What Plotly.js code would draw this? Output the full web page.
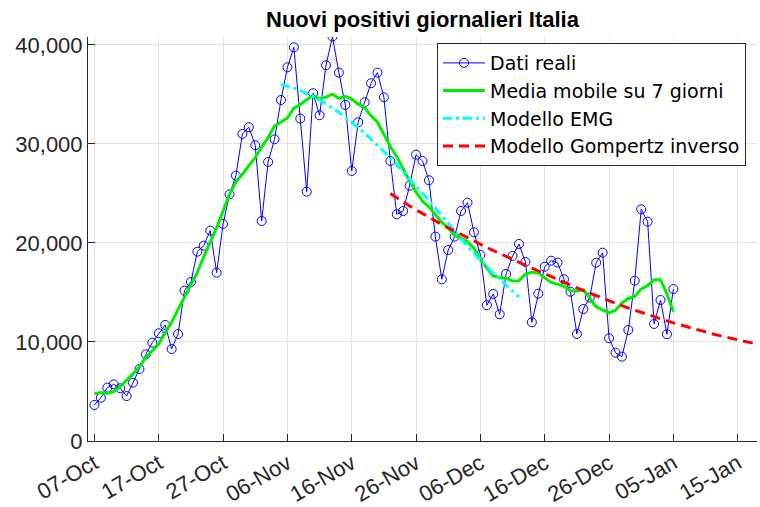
<!DOCTYPE html>
<html>
<head>
<meta charset="utf-8">
<script src="https://cdn.plot.ly/plotly-3.0.1.min.js"></script>
<style>html,body{margin:0;padding:0;background:#fff;}#chart{width:760px;height:507px;}</style>
</head>
<body>
<div id="chart"></div>
<script>
// ---- data ----
var startDate = '2020-10-07';   // first observed day
var datiReali = [3640,4370,5390,5720,5320,4540,5890,7270,8750,9930,
  10880,11720,9290,10800,15180,16060,19120,19730,21250,17000,
  21920,24920,26800,31010,31690,29870,22220,28180,30470,34440,
  37740,39760,32560,25180,35120,32900,37950,40840,37200,33940,
  27270,32190,34210,36130,37200,34710,28280,22900,23230,25790,
  28920,28280,26330,20640,16330,19290,20640,23230,24070,21080,
  18790,13710,14850,12800,16870,18690,19900,18080,11990,14880,
  17600,18210,18010,16330,15080,10810,13330,14480,18010,19020,
  10370,8920,8520,11210,16190,23400,22150,11820,14240,10780,15350];
var mediaMobile = [4780,4888,4830,4981,5500,6126,6774,7511,8426,9104,
  9806,10936,11980,13293,14557,15919,17020,18609,20000,21534,
  23233,24941,26173,26919,27813,28606,29697,30659,31811,32196,
  32619,33610,33957,34459,34901,34536,34733,35031,34613,34800,
  34540,34020,33664,32856,32231,30951,29749,28719,27444,26247,
  25156,24217,23654,22919,22106,21504,20754,20490,20116,19481,
  18361,17453,16684,16516,16414,16169,16173,16859,17050,16953,
  16443,16014,15846,15624,15179,15150,15294,14443,13563,13236,
  12933,13177,13947,14394,14601,15361,15684,16276,16290,14868,13048];
var emgStart = 29;   // day offset from startDate (05-Nov)
var modelloEMG = [36000,35850,35650,35400,35100,34800,34450,34050,33650,33200,
  32700,32200,31650,31100,30500,29900,29250,28600,27900,27200,
  26500,25800,25050,24300,23550,22750,21950,21150,20400,19650,
  18950,18250,17600,16950,16350,15750,15150,14550];
var gompStart = 46;  // day offset from startDate (22-Nov)
var modelloGompertz = [25000,24560,24140,23730,23340,22960,22590,22230,21880,21530,
  21190,20850,20520,20190,19870,19550,19240,18930,18630,18330,
  18040,17750,17460,17180,16880,16585,16295,16010,15730,15455,
  15185,14920,14660,14405,14155,13910,13670,13435,13205,12980,
  12760,12545,12335,12130,11930,11735,11545,11360,11180,11005,
  10835,10670,10510,10355,10205,10060,9920,9785];
var xTickDates = ['2020-10-07','2020-10-17','2020-10-27','2020-11-06','2020-11-16',
  '2020-11-26','2020-12-06','2020-12-16','2020-12-26','2021-01-05','2021-01-15'];
var yTickVals = [0,10000,20000,30000,40000];
var seriesNames = ['Dati reali','Media mobile su 7 giorni','Modello EMG','Modello Gompertz inverso'];

// ---- helpers ----
function dayStr(offset){
  var p = startDate.split('-');
  var d = new Date(Date.UTC(+p[0], +p[1]-1, +p[2] + offset));
  return d.toISOString().slice(0,10);
}
function datesFor(first, n){ var a=[]; for(var i=0;i<n;i++) a.push(dayStr(first+i)); return a; }

var FONT = '"Liberation Sans", Arial, Helvetica, sans-serif';
var traces = [
  {x: datesFor(0, datiReali.length), y: datiReali, name: seriesNames[0], type:'scatter', mode:'lines+markers',
   line:{color:'#0000ff', width:1}, marker:{symbol:'circle-open', size:9, color:'#0000ff', line:{width:1, color:'#0000ff'}}},
  {x: datesFor(0, mediaMobile.length), y: mediaMobile, name: seriesNames[1], type:'scatter', mode:'lines',
   line:{color:'#00ee00', width:3}},
  {x: datesFor(emgStart, modelloEMG.length), y: modelloEMG, name: seriesNames[2], type:'scatter', mode:'lines',
   line:{color:'#00ffff', width:3, dash:'9px,4px,3px,4px'}},
  {x: datesFor(gompStart, modelloGompertz.length), y: modelloGompertz, name: seriesNames[3], type:'scatter', mode:'lines',
   line:{color:'#ff0000', width:3, dash:'10px,6px'}}
];

var layout = {
  width:760, height:507,
  margin:{l:88, r:3, t:37, b:66, pad:0},
  paper_bgcolor:'#fff', plot_bgcolor:'#fff',
  font:{family:FONT, size:22, color:'#262626'},
  title:{text:'<b>Nuovi positivi giornalieri Italia</b>', font:{family:FONT, size:22, color:'#000'},
         x:0.5, xanchor:'center', xref:'paper', y:0.962, yanchor:'middle', yref:'container'},
  xaxis:{type:'date', range:['2020-10-06','2021-01-18'], tickvals:xTickDates, tickformat:'%d-%b',
         tickangle:-30, ticks:'inside', ticklen:7, tickcolor:'#262626', showline:true, linecolor:'#262626',
         linewidth:1, showgrid:true, gridcolor:'#e3e3e3', zeroline:false, tickfont:{size:22}},
  yaxis:{range:[0,40800], tickvals:yTickVals, tickformat:',', ticks:'inside', ticklen:7, tickcolor:'#262626',
         showline:true, linecolor:'#262626', linewidth:1, showgrid:true, gridcolor:'#e3e3e3', zeroline:false,
         tickfont:{size:22}},
  showlegend:true,
  legend:{x:0.5217, y:0.985, xanchor:'left', yanchor:'top', bgcolor:'#fff', bordercolor:'#262626', borderwidth:1,
          font:{family:'"DejaVu Sans", "Liberation Sans", Arial, sans-serif', size:19, color:'#000'},
          itemwidth:42, tracegroupgap:0}
};
Plotly.newPlot('chart', traces, layout, {displayModeBar:false, staticPlot:true});
</script>
</body>
</html>
